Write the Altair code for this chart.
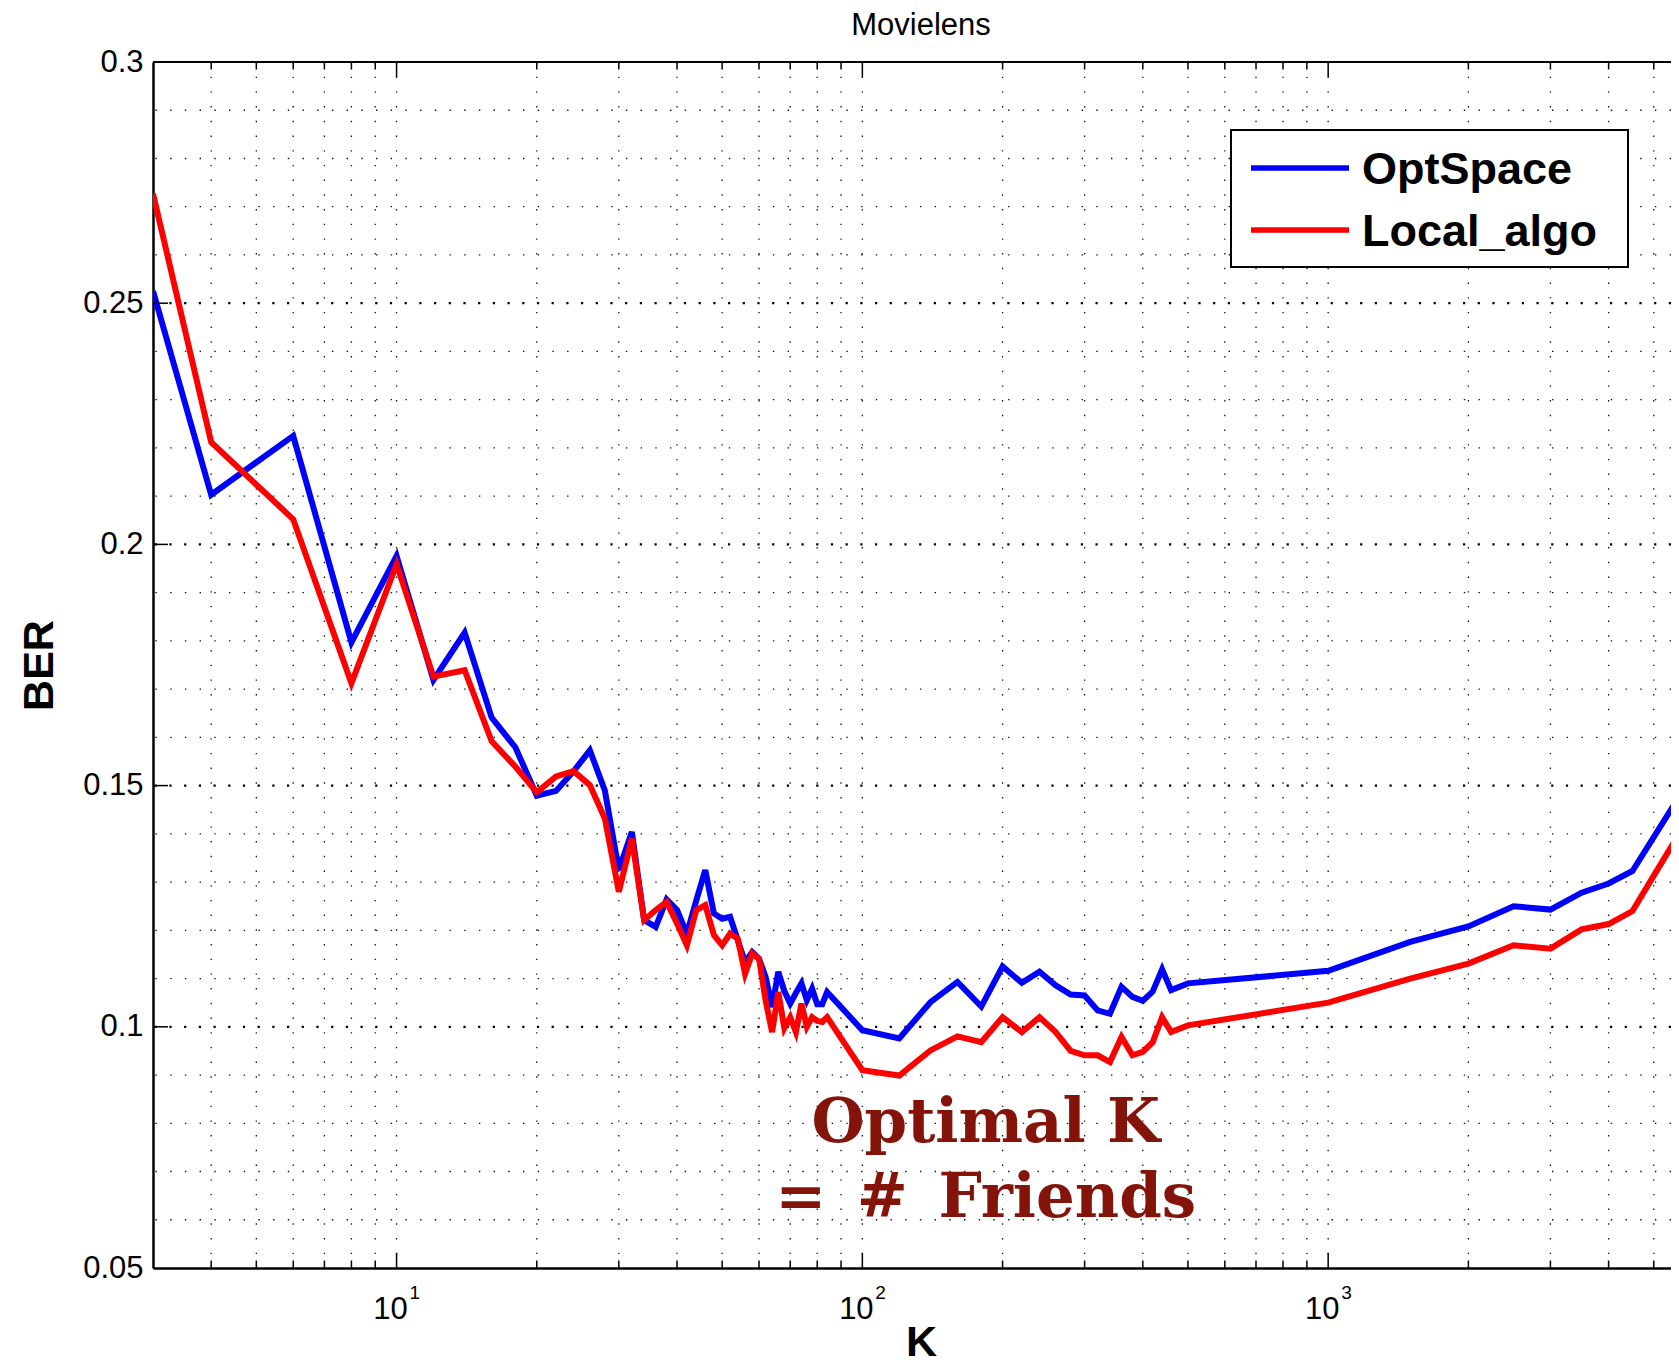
import altair as alt
import pandas as pd

# ---------------- data ----------------
K = [3, 4, 6, 8, 10, 12, 14, 16, 18, 20, 22, 24, 26, 28, 30, 32, 34, 36, 38, 40,
     42, 44, 46, 48, 50, 52, 54, 56, 58, 60, 62, 64, 66, 68, 70, 72, 74, 76, 78, 80,
     82, 84, 100, 120, 140, 160, 180, 200, 220, 240, 260, 280, 300, 320, 340, 360,
     380, 400, 420, 440, 460, 500, 1000, 1500, 2000, 2500, 3000, 3500, 4000, 4500, 6000]

opt_space = [0.2525, 0.2103, 0.2225, 0.1797, 0.1976,
             0.1719, 0.1817, 0.1641, 0.1579, 0.1479, 0.1489, 0.1530, 0.1573, 0.1490, 0.1325,
             0.1404, 0.1221, 0.1207, 0.1264, 0.1242,
             0.1193, 0.1262, 0.1325, 0.1235, 0.1224, 0.1228, 0.1180, 0.1134, 0.1155, 0.1141,
             0.1103, 0.1041, 0.1114, 0.1074, 0.1048, 0.1070, 0.1090, 0.1055, 0.1079, 0.1047,
             0.1047, 0.1072,
             0.0993, 0.0976, 0.1051, 0.1093, 0.1042, 0.1125, 0.1091, 0.1114, 0.1086, 0.1067,
             0.1065, 0.1034, 0.1027, 0.1083, 0.1062, 0.1054, 0.1073, 0.1119, 0.1076, 0.1090,
             0.1116, 0.1176, 0.1208, 0.1250, 0.1243, 0.1278, 0.1297, 0.1323, 0.1515]

local_algo = [0.2727, 0.2212, 0.2052, 0.1712, 0.1959,
              0.1726, 0.1739, 0.1592, 0.1539, 0.1486, 0.1519, 0.1530, 0.1501, 0.1432, 0.1280,
              0.1390, 0.1221, 0.1242, 0.1259, 0.1214,
              0.1169, 0.1242, 0.1252, 0.1190, 0.1169, 0.1193, 0.1183, 0.1110, 0.1152, 0.1141,
              0.1054, 0.0989, 0.1072, 0.0997, 0.1020, 0.0989, 0.1048, 0.1000, 0.1020, 0.1012,
              0.1010, 0.1020,
              0.0910, 0.0899, 0.0951, 0.0980, 0.0968, 0.1020, 0.0989, 0.1020, 0.0989, 0.0950,
              0.0941, 0.0941, 0.0927, 0.0979, 0.0941, 0.0948, 0.0968, 0.1020, 0.0989, 0.1003,
              0.1050, 0.1100, 0.1131, 0.1169, 0.1162, 0.1202, 0.1213, 0.1240, 0.1440]

series_names = ["OptSpace", "Local_algo"]
series_colors = ["#0000FF", "#FF0000"]

x_major_ticks = [10, 100, 1000]
x_label_base = ["10", "10", "10"]
x_label_exp = ["1", "2", "3"]
x_minor_ticks = [4, 5, 6, 7, 8, 9, 20, 30, 40, 50, 60, 70, 80, 90,
                 200, 300, 400, 500, 600, 700, 800, 900, 2000, 3000, 4000, 5000]
y_major_ticks = [0.05, 0.1, 0.15, 0.2, 0.25, 0.3]
y_minor_grid = [0.06, 0.07, 0.08, 0.09, 0.11, 0.12, 0.13, 0.14, 0.16, 0.17, 0.18, 0.19,
                0.21, 0.22, 0.23, 0.24, 0.26, 0.27, 0.28, 0.29]

annotation_K = [184, 184]
annotation_BER = [0.0761, 0.0606]
annotation_text = ["Optimal K", "=\u2002#\u2002Friends"]

chart_title = "Movielens"

# ---------------- layout ----------------
W = 1518
H = 1206
FONT = "Liberation Sans"

xs = alt.Scale(type="log", domain=[3, 5445], nice=False)
ys = alt.Scale(domain=[0.05, 0.3], nice=False, zero=False)

df = pd.DataFrame({"K": K, series_names[0]: opt_space, series_names[1]: local_algo})
df_xmaj = pd.DataFrame({"v": x_major_ticks, "base": x_label_base, "exp": x_label_exp})
df_xmin = pd.DataFrame({"v": x_minor_ticks})
df_xall = pd.DataFrame({"v": x_minor_ticks + x_major_ticks})
df_ymaj = pd.DataFrame({"v": y_major_ticks[1:-1]})
df_ymin = pd.DataFrame({"v": y_minor_grid})
df_one = pd.DataFrame({"a": [0]})
df_ann = pd.DataFrame({"K": annotation_K, "BER": annotation_BER, "t": annotation_text})

x_axis = alt.Axis(
    values=x_major_ticks, labels=False, ticks=False, grid=False,
    domain=True, domainColor="black", domainWidth=2.5,
    title="K", titleFont=FONT, titleFontSize=43, titleFontWeight="bold", titleColor="black",
    titleX=768, titleY=87, titleBaseline="alphabetic", titleAlign="center",
)
y_axis = alt.Axis(
    values=y_major_ticks, format="~g", ticks=False, grid=False,
    domain=True, domainColor="black", domainWidth=2.5,
    labelFont=FONT, labelFontSize=31, labelColor="black", labelPadding=10,
    labelFlush=False, labelOverlap=False,
    title="BER", titleFont=FONT, titleFontSize=43, titleFontWeight="bold", titleColor="black",
    titleAngle=270, titleX=-101, titleY=H / 2, titleBaseline="alphabetic", titleAlign="center",
)


def X(field):
    return alt.X(field, scale=xs, axis=x_axis)


def Y(field):
    return alt.Y(field, scale=ys, axis=y_axis)


dot_dash = [1.4, 13.3]

vgrid = alt.Chart(df_xall).mark_rule(color="#111111", strokeWidth=1.3, strokeDash=dot_dash).encode(
    x=X("v:Q"))
hgrid_minor = alt.Chart(df_ymin).mark_rule(color="#111111", strokeWidth=1.3, strokeDash=dot_dash).encode(
    y=Y("v:Q"))
hgrid_major = alt.Chart(df_ymaj).mark_rule(color="black", strokeWidth=2.2, strokeDash=[2.2, 12.5]).encode(
    y=Y("v:Q"))

tick_style = dict(color="black", strokeWidth=1.5)
xt_bot_major = alt.Chart(df_xmaj).mark_rule(**tick_style).encode(
    x=X("v:Q"), y=alt.value(H), y2=alt.value(H - 15))
xt_bot_minor = alt.Chart(df_xmin).mark_rule(**tick_style).encode(
    x=X("v:Q"), y=alt.value(H), y2=alt.value(H - 7.5))
xt_top_major = alt.Chart(df_xmaj).mark_rule(**tick_style).encode(
    x=X("v:Q"), y=alt.value(0), y2=alt.value(15))
xt_top_minor = alt.Chart(df_xmin).mark_rule(**tick_style).encode(
    x=X("v:Q"), y=alt.value(0), y2=alt.value(7.5))
yt_left = alt.Chart(df_ymaj).mark_rule(**tick_style).encode(
    y=Y("v:Q"), x=alt.value(0), x2=alt.value(15))
top_border = alt.Chart(df_one).mark_rule(color="black", strokeWidth=2).encode(
    x=alt.value(0), x2=alt.value(W), y=alt.value(0))

# x tick labels: 10 with a raised exponent
x_lab_base = alt.Chart(df_xmaj).mark_text(
    font=FONT, fontSize=31, color="black", align="center", baseline="alphabetic", dx=-6,
).encode(x=X("v:Q"), y=alt.value(H + 51), text="base:N")
x_lab_exp = alt.Chart(df_xmaj).mark_text(
    font=FONT, fontSize=19, color="black", align="left", baseline="alphabetic", dx=13,
).encode(x=X("v:Q"), y=alt.value(H + 31), text="exp:N")

line_blue = alt.Chart(df).mark_line(color=series_colors[0], strokeWidth=6, clip=True).encode(
    x=X("K:Q"), y=Y(f"{series_names[0]}:Q"))
line_red = alt.Chart(df).mark_line(color=series_colors[1], strokeWidth=6, clip=True).encode(
    x=X("K:Q"), y=Y(f"{series_names[1]}:Q"))

annotation = alt.Chart(df_ann).mark_text(
    font="DejaVu Serif", fontWeight="bold", fontSize=61, color="#84130A",
    align="center", baseline="alphabetic",
).encode(x=X("K:Q"), y=Y("BER:Q"), text="t:N")

title_text = alt.Chart(df_one).mark_text(
    text=chart_title, font=FONT, fontSize=31, color="black",
    align="center", baseline="alphabetic",
).encode(x=alt.value(768), y=alt.value(-27))

# legend (box, line samples, labels)
legend_box = alt.Chart(df_one).mark_rect(fill="white", stroke="black", strokeWidth=2).encode(
    x=alt.value(1078), x2=alt.value(1475), y=alt.value(68), y2=alt.value(205))
legend_layers = [legend_box]
for i, (name, col) in enumerate(zip(series_names, series_colors)):
    ly = 106 + i * 62
    legend_layers.append(
        alt.Chart(df_one).mark_rule(color=col, strokeWidth=5.5).encode(
            x=alt.value(1098), x2=alt.value(1196), y=alt.value(ly)))
    legend_layers.append(
        alt.Chart(df_one).mark_text(
            text=name, font=FONT, fontSize=45, fontWeight="bold", color="black",
            align="left", baseline="alphabetic",
        ).encode(x=alt.value(1209), y=alt.value(ly + 16)))

chart = alt.layer(
    vgrid, hgrid_minor, hgrid_major,
    line_blue, line_red,
    xt_bot_major, xt_bot_minor, xt_top_major, xt_top_minor, yt_left, top_border,
    x_lab_base, x_lab_exp, annotation, title_text, *legend_layers,
).properties(
    width=W, height=H,
    padding={"left": 145, "top": 54, "right": 0, "bottom": 96},
    autosize=alt.AutoSizeParams(type="none"),
    background="white",
).configure_view(stroke=None)

chart.save("out.html", embed_options={"renderer": "svg", "actions": False})
